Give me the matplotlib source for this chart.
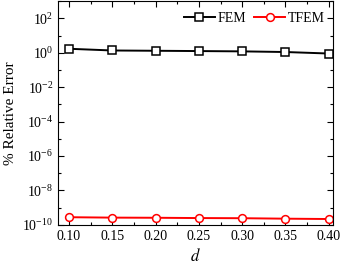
import matplotlib
matplotlib.use('Agg')
import matplotlib.pyplot as plt
from matplotlib.ticker import MultipleLocator, FixedLocator, NullFormatter

plt.rcParams['font.family'] = 'Liberation Serif'
plt.rcParams['mathtext.fontset'] = 'stix'

''' Data '''
d = [0.10, 0.15, 0.20, 0.25, 0.30, 0.35, 0.40]
fem = [1.7, 1.35, 1.3, 1.25, 1.2, 1.1, 0.9]
tfem = [2.8e-10, 2.65e-10, 2.6e-10, 2.5e-10, 2.45e-10, 2.3e-10, 2.2e-10]

''' Plotting '''
fig = plt.figure(figsize=(3.42, 2.70), dpi=100)
ax = fig.add_axes([0.170, 0.167, 0.804, 0.829])

ax.plot(d, fem, color='black', lw=1.4, marker='s', ms=5.2, mfc='white', mec='black', mew=1.1, label='FEM')
ax.plot(d, tfem, color='red', lw=1.4, marker='o', ms=5.6, mfc='white', mec='red', mew=1.1, label='TFEM')

ax.set_yscale('log')
ax.set_ylim(1e-10, 1e3)
ax.set_xlim(0.0875, 0.405)
ax.xaxis.set_major_locator(FixedLocator(d))
ax.xaxis.set_minor_locator(MultipleLocator(0.025))
ax.yaxis.set_major_locator(FixedLocator([10.0**k for k in range(-10, 3, 2)]))
ax.yaxis.set_minor_locator(FixedLocator([10.0**k for k in range(-9, 4, 2)]))
ax.yaxis.set_minor_formatter(NullFormatter())
ax.set_xticklabels(['%.2f' % v for v in d])

ax.tick_params(which='both', direction='in', top=True, right=True, labelsize=10)
ax.tick_params(which='major', length=4, width=0.8)
ax.tick_params(which='minor', length=2.5, width=0.8)

ax.set_xlabel('$d$', fontsize=12)
ax.set_ylabel('% Relative Error', fontsize=11)

ax.legend(loc='upper right', ncol=2, frameon=False, fontsize=10, handlelength=2.2,
          columnspacing=0.6, handletextpad=0.2, bbox_to_anchor=(1.0, 0.99), borderaxespad=0.2)

plt.savefig('out.png', dpi=100)
